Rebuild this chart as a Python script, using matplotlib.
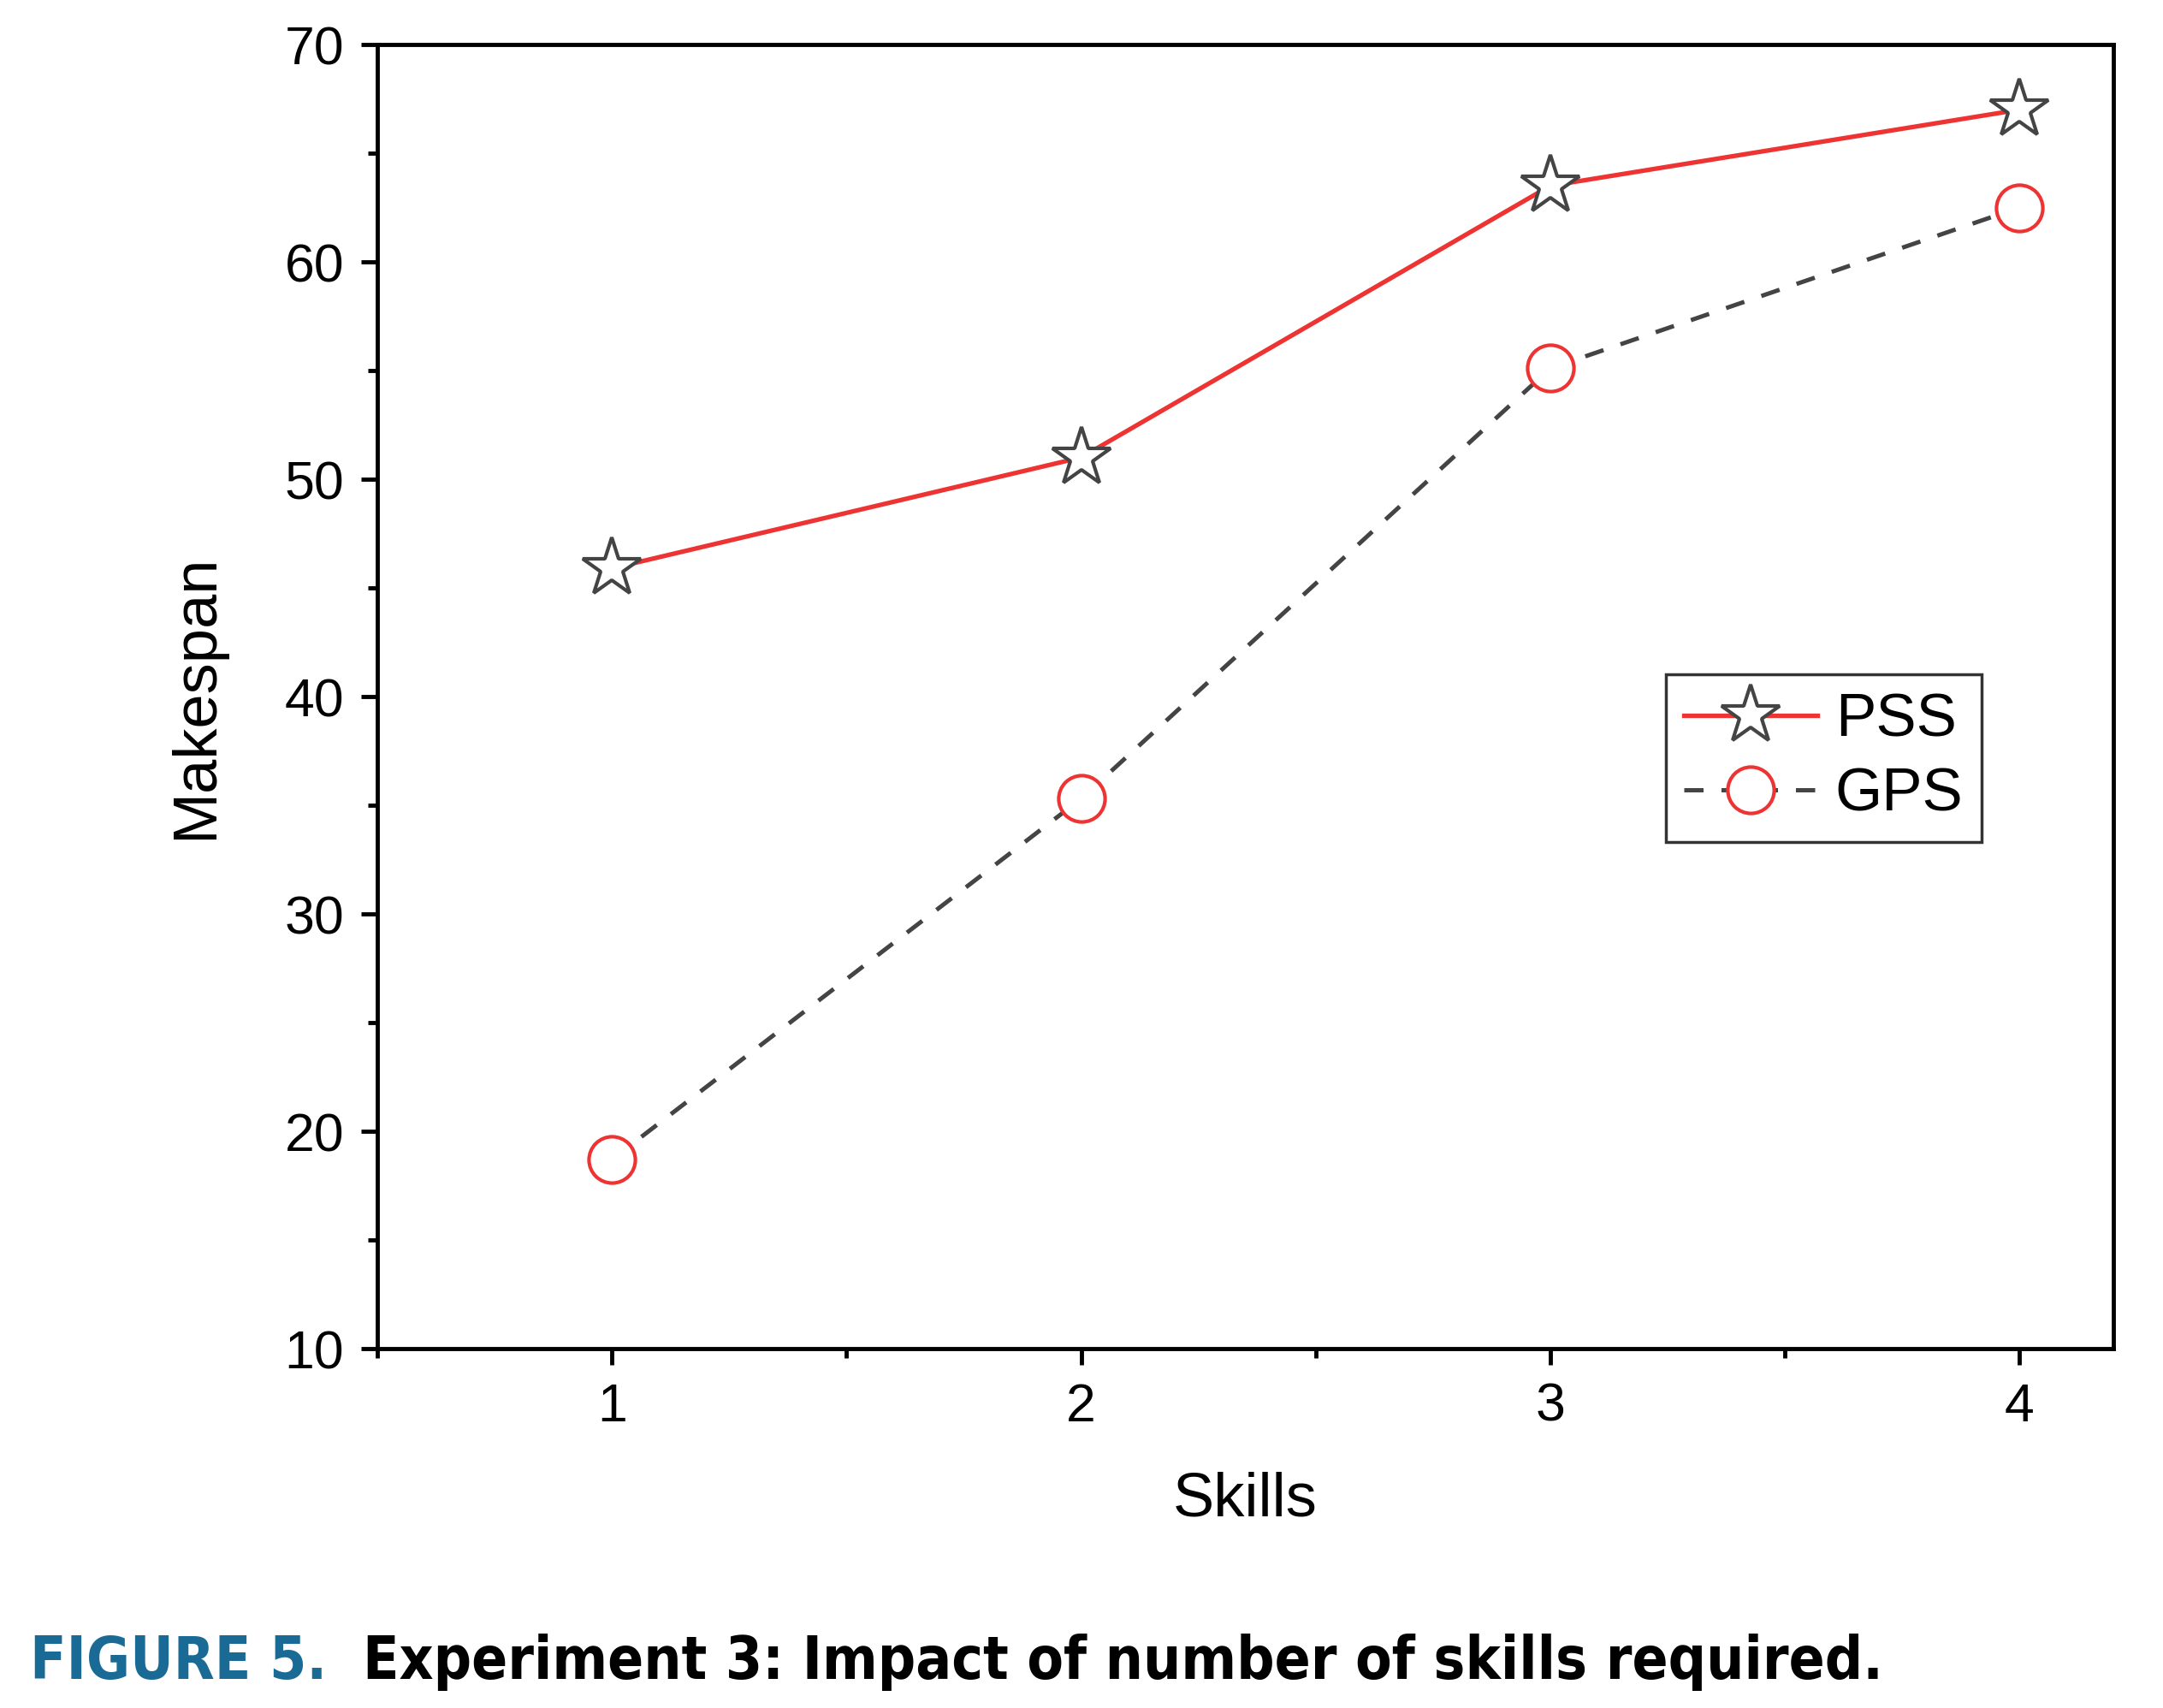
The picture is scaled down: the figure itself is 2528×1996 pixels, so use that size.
import numpy as np
import matplotlib.pyplot as plt
from matplotlib.ticker import MultipleLocator

# data
skills = [1, 2, 3, 4]
pss = [45.9, 51.0, 63.5, 67.0]
gps = [18.7, 35.3, 55.1, 62.5]

plt.rcParams['font.family'] = ['Liberation Sans', 'DejaVu Sans']

fig = plt.figure(figsize=(25.28, 19.96), dpi=100)
ax = fig.add_axes([441/2528, 1-1576/1996, (2470-441)/2528, (1576-52)/1996])

ax.plot(skills, pss, color='#ee3333', lw=3.8, marker='*', ms=52,
        mfc='white', mec='#444444', mew=3.0, label='PSS')
ax.plot(skills, gps, color='#444444', lw=3.6, ls=(0, (4.5, 4.2)), marker='o', ms=39,
        mfc='white', mec='#ee3333', mew=3.0, label='GPS')

ax.set_xlim(0.5, 4.2)
ax.set_ylim(10, 70)
ax.xaxis.set_major_locator(MultipleLocator(1))
ax.xaxis.set_minor_locator(MultipleLocator(0.5))
ax.yaxis.set_major_locator(MultipleLocator(10))
ax.yaxis.set_minor_locator(MultipleLocator(5))
ax.tick_params(which='both', direction='out', width=3.5, labelsize=45, top=False, right=False)
ax.tick_params(which='major', length=14, pad=14)
ax.tick_params(which='minor', length=8)
for s in ax.spines.values():
    s.set_linewidth(3.5)

ax.set_xlabel('Skills', fontsize=52, labelpad=33)
ax.set_ylabel('Makespan', fontsize=52, labelpad=50)

leg = ax.legend(loc='upper left', bbox_to_anchor=(0.742, 0.517), borderaxespad=0,
                fontsize=51, frameon=True, fancybox=False, edgecolor='black',
                handlelength=2.2, borderpad=0.3, labelspacing=0.3, handletextpad=0.3)
leg.get_frame().set_linewidth(2.5)

# caption, condensed bold, sized to the width seen in the figure
cap = dict(fontsize=54, fontweight='bold', family='DejaVu Sans', stretch='condensed', va='baseline')
t1 = fig.text(35/2528, 1-1962/1996, 'FIGURE 5.', color='#1a6a96', **cap)
t2 = fig.text(424/2528, 1-1962/1996, 'Experiment 3: Impact of number of skills required.', color='black', **cap)
r = fig.canvas.get_renderer()
w1 = t1.get_window_extent(r).width
w2 = t2.get_window_extent(r).width
t1.set_fontsize(54 * (382 - 35) / w1)
t2.set_fontsize(54 * (2200 - 424) / w2)

fig.savefig('out.png', dpi=100, facecolor='white')
